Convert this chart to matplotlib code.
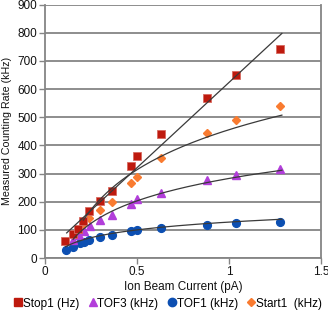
import numpy as np
import matplotlib
matplotlib.use("Agg")
import matplotlib.pyplot as plt
from matplotlib.lines import Line2D

plt.rcParams['font.family'] = ['Liberation Sans', 'DejaVu Sans']

stop1_x = [0.11, 0.153, 0.182, 0.205, 0.238, 0.297, 0.362, 0.466, 0.50, 0.63, 0.881, 1.04, 1.277]
stop1_y = [60, 85, 102, 133, 169, 204, 240, 327, 363, 439, 570, 651, 744]
tof3_x = [0.153, 0.186, 0.212, 0.243, 0.298, 0.362, 0.468, 0.50, 0.63, 0.881, 1.04, 1.278]
tof3_y = [66, 82, 96, 114, 135, 154, 192, 209, 230, 278, 295, 316]
tof1_x = [0.112, 0.153, 0.19, 0.213, 0.242, 0.30, 0.362, 0.468, 0.50, 0.63, 0.881, 1.04, 1.278]
tof1_y = [28, 40, 52, 57, 64, 76, 81, 96, 100, 106, 118, 126, 127]
start1_x = [0.209, 0.238, 0.299, 0.362, 0.467, 0.50, 0.63, 0.881, 1.04, 1.278]
start1_y = [121, 142, 171, 198, 266, 289, 354, 446, 489, 541]

# trendline coefficients
stop1_trend = (606, 18)        # linear: slope, intercept
start1_trend = (205, 456)      # logarithmic: a*ln(x) + b
tof3_trend = (115, 283)
tof1_trend = (40, 128)
stop1_trend_range = (0.118, 1.287)
trend_end = 1.287

labels = ["Stop1 (Hz)", "TOF3 (kHz)", "TOF1 (kHz)", "Start1  (kHz)"]
x_ticks = [0, 0.5, 1, 1.5]
x_tick_labels = ["0", "0.5", "1", "1.5"]
y_ticks = list(range(0, 1000, 100))

c_stop1 = "#BE1A0E"
c_tof3 = "#B23EDA"
c_tof1 = "#0C4FB2"
c_start1 = "#F97B30"
grid_c = "#858585"
fit_c = "#3A3A3A"

fig = plt.figure(figsize=(3.28, 3.11), dpi=100)
ax = fig.add_axes([0.137, 0.170, 0.842, 0.815])

xs = np.linspace(*stop1_trend_range, 100)
ax.plot(xs, stop1_trend[0] * xs + stop1_trend[1], color=fit_c, lw=0.9, zorder=4)
for (a, b), xdat in [(start1_trend, start1_x), (tof3_trend, tof3_x), (tof1_trend, tof1_x)]:
    xs = np.linspace(min(xdat), trend_end, 200)
    ax.plot(xs, a * np.log(xs) + b, color=fit_c, lw=0.9, zorder=4)

ax.plot(tof1_x, tof1_y, 'o', color=c_tof1, ms=5.6, mec=c_tof1, zorder=3)
ax.plot(tof3_x, tof3_y, '^', color=c_tof3, ms=6.2, mec=c_tof3, zorder=3)
ax.plot(start1_x, start1_y, 'D', color=c_start1, ms=4.2, mec=c_start1, zorder=3)
ax.plot(stop1_x, stop1_y, 's', color=c_stop1, ms=6.0, mec="#D86A60", mew=0.6, zorder=3)

ax.set_xlim(0, 1.5)
ax.set_ylim(0, 900)
ax.set_xticks(x_ticks)
ax.set_xticklabels(x_tick_labels)
ax.set_yticks(y_ticks)
ax.yaxis.grid(True, color=grid_c, lw=1.3)
ax.set_axisbelow(True)
for s in ['left', 'bottom', 'right']:
    ax.spines[s].set_color(grid_c)
    ax.spines[s].set_linewidth(1.3)
ax.spines['top'].set_visible(False)
ax.tick_params(axis='both', colors=grid_c, labelcolor='#111111', labelsize=8.5,
               length=4, width=1.0, pad=1.5)
ax.set_xlabel("Ion Beam Current (pA)", fontsize=8.5, color='#111111', labelpad=2)
ax.set_ylabel("Measured Counting Rate (kHz)", fontsize=7.7, color='#111111', labelpad=4)

handles = [
    Line2D([], [], ls='', marker='s', color=c_stop1, ms=6),
    Line2D([], [], ls='', marker='^', color=c_tof3, ms=6),
    Line2D([], [], ls='', marker='o', color=c_tof1, ms=6),
    Line2D([], [], ls='', marker='D', color=c_start1, ms=4.5),
]
fig.legend(handles, labels, loc='lower center', bbox_to_anchor=(0.513, -0.018), ncol=4,
           frameon=False, fontsize=8.5, handlelength=0.6, handletextpad=0.1,
           columnspacing=0.85, borderaxespad=0.2)

fig.savefig("out.png", dpi=100)
